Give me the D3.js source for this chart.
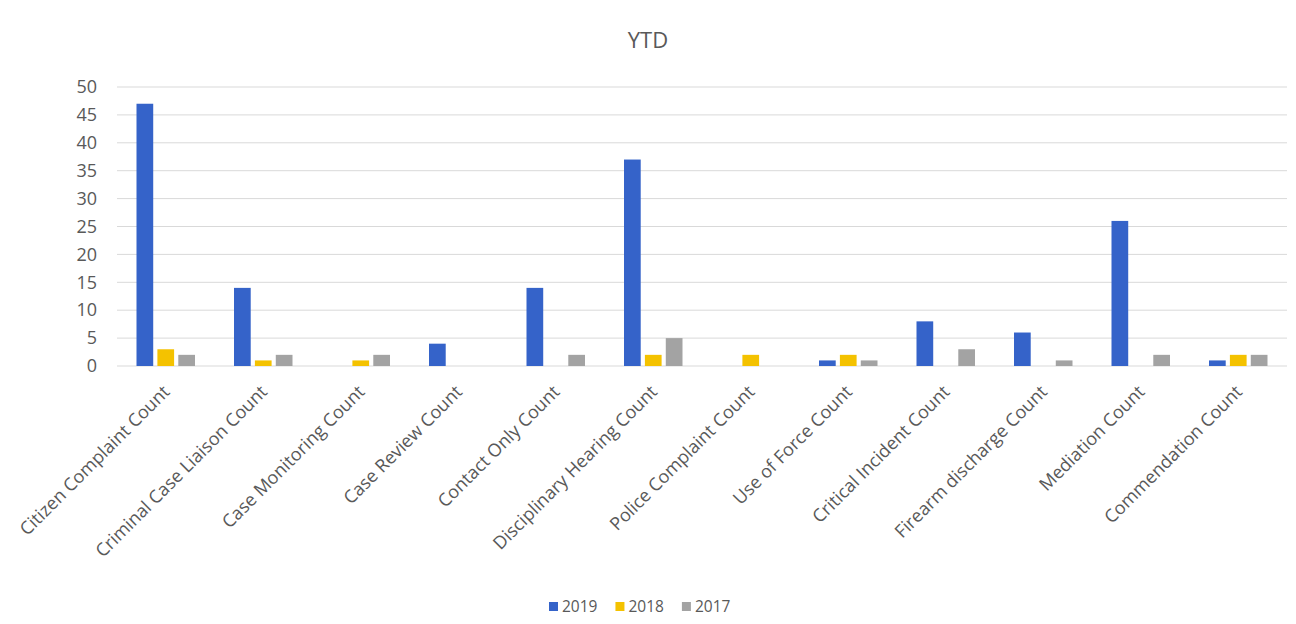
<!DOCTYPE html>
<html>
<head>
<meta charset="utf-8">
<script src="https://cdn.jsdelivr.net/npm/d3@7"></script>
<style>
  html, body { margin: 0; padding: 0; background: #fff; }
  svg { display: block; font-family: "Open Sans", "Liberation Sans", sans-serif; }
  svg text { font-family: "Open Sans", "Liberation Sans", sans-serif; }
</style>
</head>
<body>
<svg id="chart" width="1296" height="624"></svg>
<script>
// Case type categories along the x axis
const categories = [
  "Citizen Complaint Count",
  "Criminal Case Liaison Count",
  "Case Monitoring Count",
  "Case Review Count",
  "Contact Only Count",
  "Disciplinary Hearing Count",
  "Police Complaint Count",
  "Use of Force Count",
  "Critical Incident Count",
  "Firearm discharge Count",
  "Mediation Count",
  "Commendation Count"
];

// Yearly counts per category
const series2019 = [47, 14, 0, 4, 14, 37, 0, 1, 8, 6, 26, 1];
const series2018 = [3, 1, 1, 0, 0, 2, 2, 2, 0, 0, 0, 2];
const series2017 = [2, 2, 2, 0, 2, 5, 0, 1, 3, 1, 2, 2];

const seriesNames = ["2019", "2018", "2017"];
const yTicks = [0, 5, 10, 15, 20, 25, 30, 35, 40, 45, 50];

const seriesColors = ["#3563C9", "#F4C200", "#A3A3A3"];
const textColor = "#595959";
const fontFamily = '"Open Sans", "Liberation Sans", sans-serif';

const series = [series2019, series2018, series2017];

const svg = d3.select("#chart");
const margin = { left: 117, right: 9, top: 87, bottom: 258 };
const W = 1296, H = 624;
const plotW = W - margin.left - margin.right;
const plotH = H - margin.top - margin.bottom;

const g = svg.append("g").attr("transform", `translate(${margin.left},${margin.top})`);

const x = d3.scaleBand().domain(categories).range([0, plotW]).paddingInner(0.4).paddingOuter(0.2);
const xs = d3.scaleBand().domain(seriesNames).range([0, x.bandwidth()]).paddingInner(0.2);
const y = d3.scaleLinear().domain([0, 50]).range([plotH, 0]);

// Horizontal gridlines
g.append("g")
  .selectAll("line")
  .data(yTicks)
  .join("line")
  .attr("x1", 0)
  .attr("x2", plotW)
  .attr("y1", d => y(d))
  .attr("y2", d => y(d))
  .attr("stroke", "#D9D9D9")
  .attr("stroke-width", 1);

// Y axis labels
const yAxis = g.append("g")
  .call(d3.axisLeft(y).tickValues(yTicks).tickSize(0).tickPadding(20))
  .attr("font-family", fontFamily);
yAxis.select(".domain").remove();
yAxis.selectAll("text")
  .attr("fill", textColor)
  .style("font-size", "18px");

// Bars
const groups = g.append("g")
  .selectAll("g")
  .data(categories)
  .join("g")
  .attr("transform", d => `translate(${x(d)},0)`);

groups.selectAll("rect")
  .data((d, i) => seriesNames.map((s, k) => ({ s, v: series[k][i], k })))
  .join("rect")
  .attr("x", d => xs(d.s))
  .attr("y", d => y(d.v))
  .attr("width", xs.bandwidth())
  .attr("height", d => y(0) - y(d.v))
  .attr("fill", d => seriesColors[d.k]);

// X axis category labels, rotated
const xAxis = g.append("g")
  .attr("transform", `translate(0,${plotH})`)
  .call(d3.axisBottom(x).tickSize(0).tickPadding(0))
  .attr("font-family", fontFamily);
xAxis.select(".domain").remove();
xAxis.selectAll("text")
  .attr("fill", textColor)
  .style("font-size", "18px")
  .attr("text-anchor", "end")
  .attr("y", 0)
  .attr("dy", null)
  .attr("transform", "translate(5,27) rotate(-45)");

// Title
svg.append("text")
  .attr("x", W / 2)
  .attr("y", 48)
  .attr("text-anchor", "middle")
  .attr("fill", textColor)
  .style("font-size", "22px")
  .text("YTD");

// Legend
const legend = svg.append("g").attr("transform", "translate(549,607)");
let lx = 0;
seriesNames.forEach((name, k) => {
  const item = legend.append("g").attr("transform", `translate(${lx},0)`);
  item.append("rect")
    .attr("x", 0).attr("y", -5)
    .attr("width", 9).attr("height", 9)
    .attr("fill", seriesColors[k]);
  const t = item.append("text")
    .attr("x", 13).attr("y", 0)
    .attr("dy", "0.35em")
    .attr("fill", textColor)
    .style("font-size", "15.5px")
    .text(name);
  lx += 13 + t.node().getComputedTextLength() + 18;
});
</script>
</body>
</html>
